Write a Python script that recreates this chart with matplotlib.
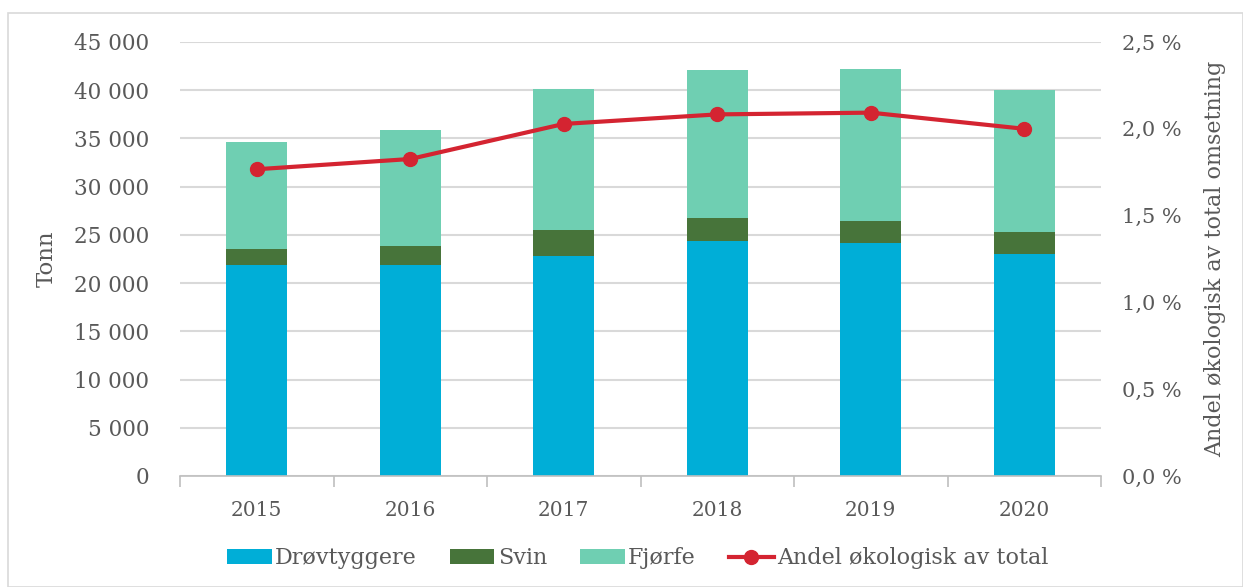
import matplotlib.pyplot as plt
import numpy as np
from matplotlib.patches import Rectangle
from matplotlib.ticker import FuncFormatter, MultipleLocator

years = ['2015', '2016', '2017', '2018', '2019', '2020']
drovtyggere = [21850, 21850, 22800, 24370, 24130, 22990]
svin = [1660, 2000, 2730, 2410, 2340, 2340]
fjorfe = [11100, 12030, 14590, 15350, 15700, 14690]
andel = [1.767, 1.826, 2.028, 2.083, 2.093, 2.000]

plt.rcParams['font.family'] = ['DejaVu Serif']
grey = '#595959'

fig = plt.figure(figsize=(12.43, 5.87), dpi=100)
fig.patches.append(Rectangle((8 / 1243, 0), 1 - 8 / 1243, 1 - 13 / 587, transform=fig.transFigure,
                             fill=False, edgecolor='#D9D9D9', linewidth=1.2))

ax = fig.add_axes([180 / 1243, 1 - 476 / 587, 921 / 1243, 434 / 587])
x = np.arange(len(years))
w = 0.4
d = np.array(drovtyggere)
s = np.array(svin)
f = np.array(fjorfe)
ax.bar(x, d, w, color='#00AED7', label='Drøvtyggere', zorder=2)
ax.bar(x, s, w, bottom=d, color='#47743A', label='Svin', zorder=2)
ax.bar(x, f, w, bottom=d + s, color='#6FCFB2', label='Fjørfe', zorder=2)

ax.set_xlim(-0.5, len(years) - 0.5)
ax.set_ylim(0, 45000)
ax.yaxis.set_major_locator(MultipleLocator(5000))
ax.yaxis.set_major_formatter(FuncFormatter(lambda v, p: f'{int(v):,}'.replace(',', ' ')))
ax.grid(axis='y', color='#D9D9D9', linewidth=1.5, zorder=0)
ax.set_axisbelow(True)
for sp in ['top', 'right', 'left']:
    ax.spines[sp].set_visible(False)
ax.spines['bottom'].set_color('#BFBFBF')
ax.spines['bottom'].set_linewidth(1.2)
ax.set_xticks(x)
ax.set_xticklabels(years)
ax.set_xticks(np.arange(-0.5, len(years), 1), minor=True)
ax.tick_params(axis='x', which='major', length=0, pad=18, labelsize=14.5, labelcolor=grey)
ax.tick_params(axis='x', which='minor', length=8, color='#BFBFBF', width=1.2)
ax.tick_params(axis='y', length=0, pad=22, labelsize=15.5, labelcolor=grey)
ax.set_ylabel('Tonn', fontsize=16.5, color=grey, labelpad=12)

ax2 = ax.twinx()
ax2.plot(x, andel, color='#D42431', linewidth=3, marker='o', markersize=10,
         label='Andel økologisk av total', zorder=3)
ax2.set_ylim(0, 2.5)
ax2.yaxis.set_major_locator(MultipleLocator(0.5))
ax2.yaxis.set_major_formatter(FuncFormatter(lambda v, p: f'{v:.1f} %'.replace('.', ',')))
for sp in ax2.spines.values():
    sp.set_visible(False)
ax2.tick_params(axis='y', length=0, pad=15, labelsize=15, labelcolor=grey)
ax2.set_ylabel('Andel økologisk av total omsetning', fontsize=16, color=grey, labelpad=16)

h1, l1 = ax.get_legend_handles_labels()
h2, l2 = ax2.get_legend_handles_labels()
ax.legend(h1 + h2, l1 + l2, loc='center', bbox_to_anchor=(0.497, -0.19), ncol=4,
          frameon=False, fontsize=16, labelcolor=grey, handlelength=2.0,
          handletextpad=0.15, columnspacing=1.5)

fig.savefig('out.png', dpi=100)
